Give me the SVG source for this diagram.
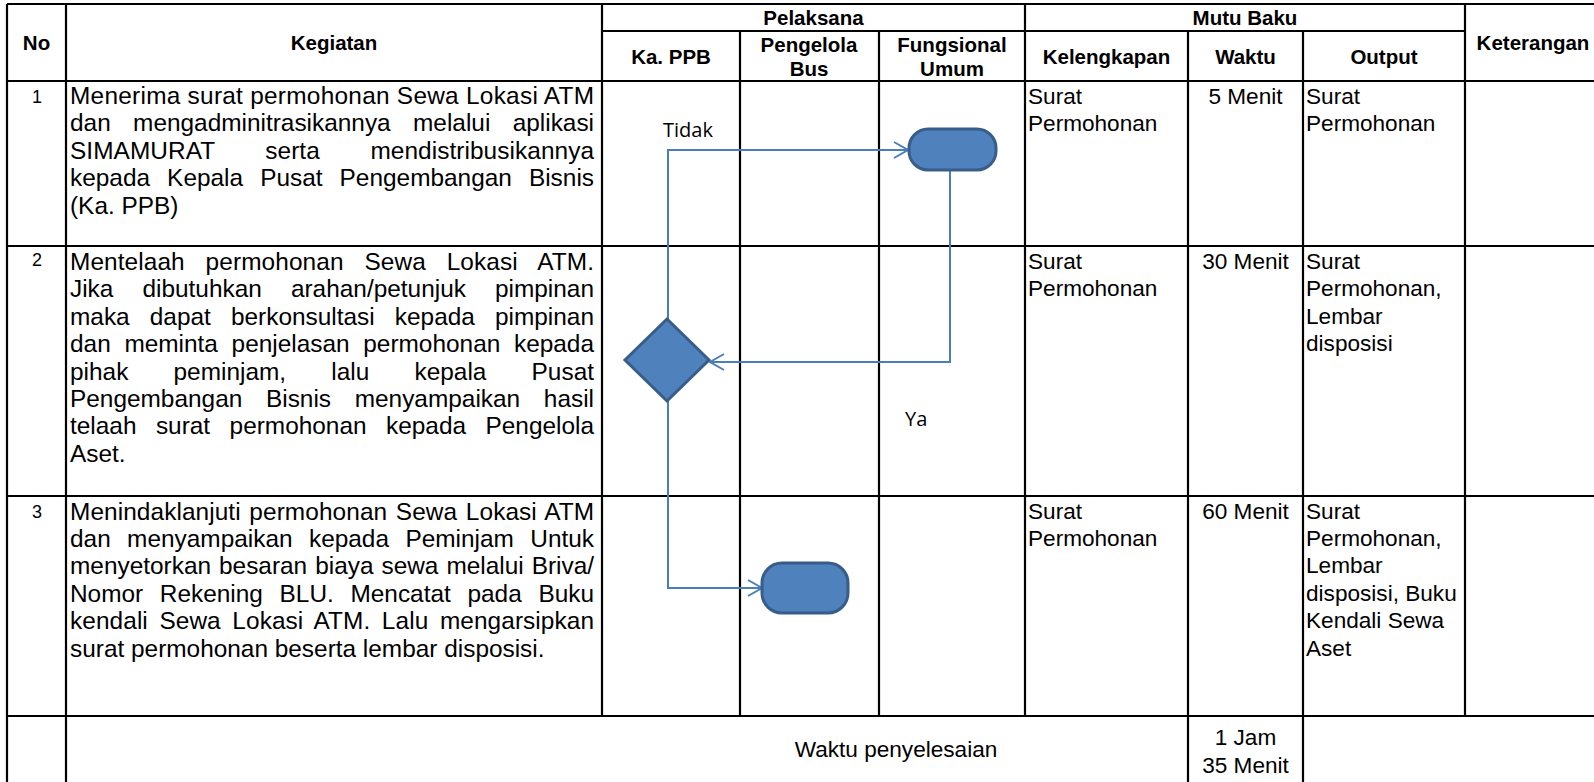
<svg xmlns="http://www.w3.org/2000/svg" width="1594" height="782" viewBox="0 0 1594 782">
<style>
.t{font-family:"Liberation Sans",Arial,sans-serif;fill:#000}
.h{font-weight:bold;font-size:20.5px;text-anchor:middle}
.k{font-size:24.4px}
.b{font-size:22.6px}
.c{text-anchor:middle}
.n{font-size:18px;text-anchor:middle}
.fl{font-family:"Open Sans","Noto Sans",sans-serif;font-size:20px;fill:#000}
.grid{stroke:#000;stroke-width:2.2;fill:none}
.conn{stroke:#4A7EBB;stroke-width:2;fill:none}
.shape{fill:#4F81BD;stroke:#385D8A;stroke-width:3}
</style>
<defs>
<marker id="arr" markerUnits="userSpaceOnUse" markerWidth="18" markerHeight="20" refX="15" refY="9" orient="auto">
<path d="M1,1 L15,9 L1,17" fill="none" stroke="#4A7EBB" stroke-width="2"/>
</marker>
</defs>
<rect width="1594" height="782" fill="#fff"/>
<g id="table" class="grid">
<path d="M7,4 H1594 M602,31 H1465 M7,81 H1594 M7,246 H1594 M7,496 H1594 M7,716 H1594"/>
<path d="M7,4 V782 M66,4 V782 M602,4 V716 M740,31 V716 M879,31 V716 M1025,4 V716 M1188,31 V782 M1303,31 V782 M1465,4 V716"/>
</g>
<g id="header" class="t h">
<text x="36.5" y="50">No</text>
<text x="334" y="50">Kegiatan</text>
<text x="813.5" y="25">Pelaksana</text>
<text x="1245" y="25">Mutu Baku</text>
<text x="671" y="64">Ka. PPB</text>
<text x="809" y="52">Pengelola</text>
<text x="809" y="76">Bus</text>
<text x="952" y="52">Fungsional</text>
<text x="952" y="76">Umum</text>
<text x="1106.5" y="64">Kelengkapan</text>
<text x="1245.5" y="64">Waktu</text>
<text x="1384" y="64">Output</text>
<text x="1533" y="50">Keterangan</text>
</g>
<g id="row1" class="t">
<text class="t n" x="37" y="103">1</text>
<text class="k" x="70" y="104" textLength="524" lengthAdjust="spacing">Menerima surat permohonan Sewa Lokasi ATM</text>
<text class="k" x="70" y="131.4" word-spacing="15.6" textLength="524" lengthAdjust="spacing">dan mengadminitrasikannya melalui aplikasi</text>
<text class="k" x="70" y="158.8" word-spacing="43.7" textLength="524" lengthAdjust="spacing">SIMAMURAT serta mendistribusikannya</text>
<text class="k" x="70" y="186.2" word-spacing="10.3" textLength="524" lengthAdjust="spacing">kepada Kepala Pusat Pengembangan Bisnis</text>
<text class="k" x="70" y="213.6">(Ka. PPB)</text>
<text class="b" x="1028" y="104">Surat</text>
<text class="b" x="1028" y="131.4">Permohonan</text>
<text class="b c" x="1245.5" y="104">5 Menit</text>
<text class="b" x="1306" y="104">Surat</text>
<text class="b" x="1306" y="131.4">Permohonan</text>
</g>
<g id="row2" class="t">
<text class="t n" x="37" y="266">2</text>
<text class="k" x="70" y="270" word-spacing="14" textLength="524" lengthAdjust="spacing">Mentelaah permohonan Sewa Lokasi ATM.</text>
<text class="k" x="70" y="297.4" word-spacing="22.3" textLength="524" lengthAdjust="spacing">Jika dibutuhkan arahan/petunjuk pimpinan</text>
<text class="k" x="70" y="324.8" word-spacing="13.3" textLength="524" lengthAdjust="spacing">maka dapat berkonsultasi kepada pimpinan</text>
<text class="k" x="70" y="352.2" word-spacing="6.9" textLength="524" lengthAdjust="spacing">dan meminta penjelasan permohonan kepada</text>
<text class="k" x="70" y="379.6" word-spacing="38.4" textLength="524" lengthAdjust="spacing">pihak peminjam, lalu kepala Pusat</text>
<text class="k" x="70" y="407" word-spacing="16.9" textLength="524" lengthAdjust="spacing">Pengembangan Bisnis menyampaikan hasil</text>
<text class="k" x="70" y="434.4" word-spacing="12.7" textLength="524" lengthAdjust="spacing">telaah surat permohonan kepada Pengelola</text>
<text class="k" x="70" y="461.8">Aset.</text>
<text class="b" x="1028" y="269">Surat</text>
<text class="b" x="1028" y="296.4">Permohonan</text>
<text class="b c" x="1245.5" y="269">30 Menit</text>
<text class="b" x="1306" y="269">Surat</text>
<text class="b" x="1306" y="296.4">Permohonan,</text>
<text class="b" x="1306" y="323.8">Lembar</text>
<text class="b" x="1306" y="351.2">disposisi</text>
</g>
<g id="row3" class="t">
<text class="t n" x="37" y="518">3</text>
<text class="k" x="70" y="519.5" word-spacing="1.8" textLength="524" lengthAdjust="spacing">Menindaklanjuti permohonan Sewa Lokasi ATM</text>
<text class="k" x="70" y="546.9" word-spacing="9.6" textLength="524" lengthAdjust="spacing">dan menyampaikan kepada Peminjam Untuk</text>
<text class="k" x="70" y="574.3" word-spacing="1.2" textLength="524" lengthAdjust="spacing">menyetorkan besaran biaya sewa melalui Briva/</text>
<text class="k" x="70" y="601.7" word-spacing="9.9" textLength="524" lengthAdjust="spacing">Nomor Rekening BLU. Mencatat pada Buku</text>
<text class="k" x="70" y="629.1" word-spacing="4.7" textLength="524" lengthAdjust="spacing">kendali Sewa Lokasi ATM. Lalu mengarsipkan</text>
<text class="k" x="70" y="656.5">surat permohonan beserta lembar disposisi.</text>
<text class="b" x="1028" y="518.5">Surat</text>
<text class="b" x="1028" y="545.9">Permohonan</text>
<text class="b c" x="1245.5" y="518.5">60 Menit</text>
<text class="b" x="1306" y="518.5">Surat</text>
<text class="b" x="1306" y="545.9">Permohonan,</text>
<text class="b" x="1306" y="573.3">Lembar</text>
<text class="b" x="1306" y="600.7">disposisi, Buku</text>
<text class="b" x="1306" y="628.1">Kendali Sewa</text>
<text class="b" x="1306" y="655.5">Aset</text>
</g>
<g id="total" class="t">
<text class="b c" x="896" y="757">Waktu penyelesaian</text>
<text class="b c" x="1245.5" y="745">1 Jam</text>
<text class="b c" x="1245.5" y="773">35 Menit</text>
</g>
<g id="connectors">
<path class="conn" d="M668,319 V150 H908" marker-end="url(#arr)"/>
<path class="conn" d="M950,170 V362 H710" marker-end="url(#arr)"/>
<path class="conn" d="M668,401 V588 H762" marker-end="url(#arr)"/>
<text class="fl" x="663" y="137">Tidak</text>
<text class="fl" x="905" y="426">Ya</text>
</g>
<g id="node-fungsional">
<rect class="shape" x="909" y="129" width="87" height="41" rx="19" ry="19"/>
</g>
<g id="node-decision">
<polygon class="shape" points="667,319 709,360 667,401 625,360"/>
</g>
<g id="node-pengelola">
<rect class="shape" x="762" y="563" width="86" height="50" rx="20" ry="20"/>
</g>
</svg>
